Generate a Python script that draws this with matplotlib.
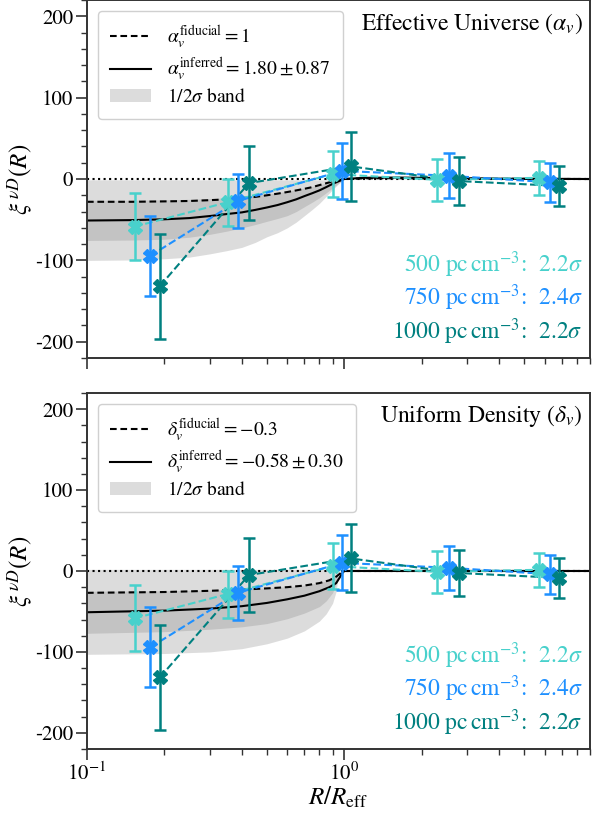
import numpy as np
import matplotlib
matplotlib.use("Agg")
import matplotlib.pyplot as plt
from matplotlib.ticker import MultipleLocator, LogLocator, NullFormatter

plt.rcParams['font.family'] = ['STIXGeneral', 'DejaVu Serif']
plt.rcParams['mathtext.fontset'] = 'stix'
plt.rcParams['axes.unicode_minus'] = False

# ---- data points (same in both panels) ----
x_500 = [0.153, 0.352, 0.90, 2.30, 5.70]
y_500 = [-58.5, -28.5, 6.0, -1.0, 1.5]
e_500 = [41, 29, 28, 26, 21]

x_750 = [0.176, 0.386, 0.98, 2.55, 6.30]
y_750 = [-94.5, -27.0, 10.0, 4.0, -4.0]
e_750 = [49.5, 33, 34, 27.5, 24]

x_1000 = [0.192, 0.426, 1.06, 2.78, 6.85]
y_1000 = [-131.5, -5.0, 15.5, -2.5, -8.5]
e_1000 = [64.5, 45.5, 42, 29, 25]

series_labels = [r'$500\ \mathrm{pc\,cm^{-3}}$:  $2.2\sigma$',
                 r'$750\ \mathrm{pc\,cm^{-3}}$:  $2.4\sigma$',
                 r'$1000\ \mathrm{pc\,cm^{-3}}$:  $2.2\sigma$']
series_colors = ['mediumturquoise', 'dodgerblue', 'teal']

# ---- model curves, top panel (effective universe) ----
r_top_band = [0.1, 0.15, 0.2, 0.25, 0.3, 0.35, 0.4, 0.45, 0.5, 0.55, 0.6, 0.65, 0.7, 0.75,
              0.8, 0.85, 0.9, 0.95, 1.0]
r_top_line = r_top_band + [1.2, 1.6, 2.5, 4.0, 9.0]
top_inferred = [-51, -50.5, -49.5, -48, -45.5, -43, -41, -38, -35, -32, -28.5, -25, -21, -17.5,
                -14, -10, -6, -2.8, 0,
                1.5, 1.8, 1.2, 0.4, 0]
top_fiducial = [-28, -28, -27.5, -27, -26, -25, -23.5, -22, -20, -18, -16, -14, -12, -10,
                -7.5, -5.2, -3, -1.3, 0,
                0.8, 1.0, 0.6, 0.2, 0]
top_1s_lo = [-75.5, -75, -74, -71.5, -68, -64, -60, -56, -52, -48.5, -45, -40, -34, -28.5,
             -23, -17, -11, -5, 0]
top_1s_hi = [-26, -26, -25.5, -25, -24, -23, -22, -20.5, -18.5, -17, -15, -13, -11, -9,
             -7, -5, -3, -1.5, 0]
top_2s_lo = [-100, -99.5, -98, -96, -92, -88, -84, -78, -71, -66, -60, -53, -45, -37.5,
             -30, -21.5, -13, -6, 0]
top_2s_hi = [-1, -1, -1, -1, -1, -1, -1, -1, -1, -1, -1, -1, -1, -1,
             -1, -1, -1, -0.5, 0]

# ---- model curves, bottom panel (uniform density) ----
r_bot_band = [0.1, 0.2, 0.3, 0.4, 0.5, 0.6, 0.7, 0.8, 0.85, 0.9, 0.93, 0.945]
r_bot_line = [0.1, 0.2, 0.3, 0.4, 0.5, 0.6, 0.7, 0.8, 0.875, 0.93, 0.96, 0.98, 1.0, 9.0]
bot_inferred = [-51, -49, -46.5, -43.5, -39.5, -35, -30.5, -25, -20, -15, -8, -3, 0, 0]
bot_fiducial = [-27, -26, -24.5, -23, -21.5, -20, -18, -15, -11.5, -7, -3.5, -1, 0, 0]
bot_1s_lo = [-77, -75, -72, -69, -65, -59, -52, -44, -37, -27, -15, -6]
bot_1s_hi = [-25, -24.5, -23.5, -22.5, -21, -19.5, -17.5, -14.5, -12, -9, -6, -4]
bot_2s_lo = [-103, -102, -100, -96, -90, -83, -74, -62, -53, -40, -25, -8]
bot_2s_hi = [2, 2, 2, 2, 2, 2, 2, 2, 2, 2, 2, 2]

panels = [
    dict(title=r'Effective Universe ($\alpha_v$)',
         fid_label=r'$\alpha_v^{\rm fiducial} = 1$',
         inf_label=r'$\alpha_v^{\rm inferred} = 1.80 \pm 0.87$',
         r_band=r_top_band, r_line=r_top_line,
         inf=top_inferred, fid=top_fiducial,
         s1=(top_1s_lo, top_1s_hi), s2=(top_2s_lo, top_2s_hi)),
    dict(title=r'Uniform Density ($\delta_v$)',
         fid_label=r'$\delta_v^{\rm fiducial} = -0.3$',
         inf_label=r'$\delta_v^{\rm inferred} = -0.58 \pm 0.30$',
         r_band=r_bot_band, r_line=r_bot_line,
         inf=bot_inferred, fid=bot_fiducial,
         s1=(bot_1s_lo, bot_1s_hi), s2=(bot_2s_lo, bot_2s_hi)),
]

fig = plt.figure(figsize=(5.93, 8.15), dpi=100)
ax_top = fig.add_axes([0.1467, 0.5607, 0.848, 0.4393])
ax_bot = fig.add_axes([0.1467, 0.081, 0.848, 0.4368])
axes = [ax_top, ax_bot]

spine_col = '#333333'
for ax, p in zip(axes, panels):
    ax.fill_between(p['r_band'], p['s2'][0], p['s2'][1], color='gray', alpha=0.27,
                    linewidth=0, label=r'$1/2\sigma$ band', zorder=1)
    ax.fill_between(p['r_band'], p['s1'][0], p['s1'][1], color='gray', alpha=0.27,
                    linewidth=0, zorder=1)
    ax.plot(p['r_line'], p['fid'], color='k', ls='--', lw=1.5, dashes=(3.2, 1.8),
            label=p['fid_label'], zorder=2)
    ax.plot(p['r_line'], p['inf'], color='k', ls='-', lw=1.5, label=p['inf_label'], zorder=2)
    ax.axhline(0, color='k', ls=':', lw=1.5, zorder=2)

    for xs, ys, es, c in zip([x_500, x_750, x_1000], [y_500, y_750, y_1000],
                             [e_500, e_750, e_1000], series_colors):
        ax.plot(xs, ys, color=c, ls='--', lw=1.5, zorder=3)
        ax.errorbar(xs, ys, yerr=es, fmt='X', color=c, ms=10, elinewidth=1.8,
                    capsize=4.5, capthick=1.8, zorder=4)

    for k, (lab, c) in enumerate(zip(series_labels, series_colors)):
        ax.text(0.986, 0.262 - 0.094 * k, lab, color=c, fontsize=17,
                ha='right', va='center', transform=ax.transAxes)

    ax.text(0.986, 0.935, p['title'], fontsize=17, ha='right', va='center',
            transform=ax.transAxes)

    handles, labels = ax.get_legend_handles_labels()
    order = [1, 2, 0]
    leg = ax.legend([handles[i] for i in order], [labels[i] for i in order],
                    loc='upper left', fontsize=14, handlelength=2.1,
                    labelspacing=0.25, handletextpad=0.8, borderpad=0.65,
                    borderaxespad=0.55, framealpha=1, edgecolor='#d0d0d0', fancybox=True)

    ax.set_xscale('log')
    ax.set_xlim(0.1, 9.0)
    ax.set_ylim(-220, 220)
    ax.set_yticks([-200, -100, 0, 100, 200])
    ax.yaxis.set_minor_locator(MultipleLocator(20))
    ax.xaxis.set_minor_locator(LogLocator(base=10, subs=np.arange(2, 10)))
    ax.xaxis.set_minor_formatter(NullFormatter())
    ax.tick_params(which='major', direction='out', length=8, width=1.2,
                   labelsize=15, pad=2, color=spine_col)
    ax.tick_params(which='minor', direction='out', length=4.5, width=1.0, color=spine_col)
    for s in ax.spines.values():
        s.set_color(spine_col)
        s.set_linewidth(1.4)
    ax.set_ylabel(r'$\xi^{\,\nu D}(R)$', fontsize=18, labelpad=0)

ax_top.tick_params(axis='x', labelbottom=False)
ax_bot.set_xlabel(r'$R/R_{\rm eff}$', fontsize=18, labelpad=0)

fig.savefig('out.png', dpi=100)
